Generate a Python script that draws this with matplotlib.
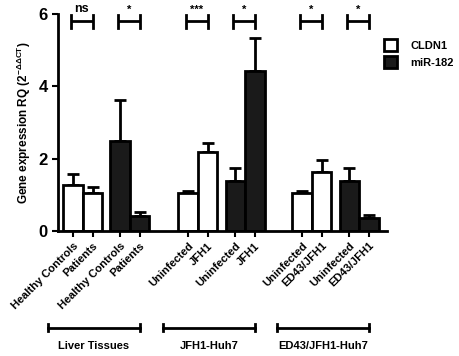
import matplotlib
matplotlib.use("Agg")
import matplotlib.pyplot as plt
from matplotlib.patches import Patch
import numpy as np

plt.rcParams['font.family'] = ['Liberation Sans', 'DejaVu Sans']

groups = ["Liver Tissues", "JFH1-Huh7", "ED43/JFH1-Huh7"]
tick_labels = [["Healthy Controls", "Patients", "Healthy Controls", "Patients"],
               ["Uninfected", "JFH1", "Uninfected", "JFH1"],
               ["Uninfected", "ED43/JFH1", "Uninfected", "ED43/JFH1"]]
cldn1 = [[1.27, 1.05], [1.05, 2.18], [1.05, 1.63]]
cldn1_err = [[0.30, 0.17], [0.05, 0.25], [0.05, 0.33]]
mir182 = [[2.49, 0.41], [1.38, 4.42], [1.38, 0.36]]
mir182_err = [[1.13, 0.12], [0.36, 0.91], [0.36, 0.08]]
signif = ["ns", "*", "***", "*", "*", "*"]

fig = plt.figure(figsize=(4.59, 3.56), dpi=100)
ax = fig.add_axes([58/459, 125/356, 329/459, 217/356])

group_start = [0.77, 6.67, 12.52]
pair_off = 2.42
w = 1.0
lw = 2.0

positions = []
labels = []
pairs = []
for g in range(3):
    s = group_start[g]
    xc = [s, s + 1]
    xm = [s + pair_off, s + pair_off + 1]
    ax.bar(xc, cldn1[g], width=w, color='white', edgecolor='black', linewidth=lw, zorder=2)
    ax.errorbar(xc, cldn1[g], yerr=[[0, 0], cldn1_err[g]], fmt='none', ecolor='black',
                elinewidth=lw, capsize=4, capthick=lw, zorder=1)
    ax.bar(xm, mir182[g], width=w, color='#1a1a1a', edgecolor='black', linewidth=lw, zorder=2)
    ax.errorbar(xm, mir182[g], yerr=[[0, 0], mir182_err[g]], fmt='none', ecolor='black',
                elinewidth=lw, capsize=4, capthick=lw, zorder=1)
    positions += xc + xm
    labels += tick_labels[g]
    pairs += [xc, xm]

ax.set_xlim(0, 16.87)
ax.set_ylim(0, 6)
ax.set_yticks([0, 2, 4, 6])
ax.set_yticklabels(["0", "2", "4", "6"], fontsize=12, fontweight='bold')
ax.set_xticks(positions)
ax.set_xticklabels(labels, rotation=45, ha='right', rotation_mode='anchor',
                   fontsize=8, fontweight='bold')
ax.tick_params(axis='both', width=1.5, length=4, direction='out')
ax.tick_params(axis='x', pad=3)
for sp in ['top', 'right']:
    ax.spines[sp].set_visible(False)
for sp in ['left', 'bottom']:
    ax.spines[sp].set_linewidth(2)
ax.set_ylabel(r"Gene expression RQ (2$^{\mathregular{-\Delta\Delta CT}}$)", fontsize=8.5,
              fontweight='bold', labelpad=2)
ax.yaxis.set_label_coords(-0.075, 0.5)

# significance brackets
for (a, b), lab in zip(pairs, signif):
    x0, x1 = a - 0.1, b
    yb = 5.8
    ax.plot([x0, x1], [yb, yb], color='black', lw=2, clip_on=False, solid_capstyle='butt')
    ax.plot([x0, x0], [yb - 0.18, yb + 0.18], color='black', lw=2, clip_on=False)
    ax.plot([x1, x1], [yb - 0.18, yb + 0.18], color='black', lw=2, clip_on=False)
    ax.text((x0 + x1) / 2, 5.97, lab, ha='center', va='bottom',
            fontsize=9 if lab == 'ns' else 8, fontweight='bold', clip_on=False)

# group brackets below
tr = ax.get_xaxis_transform()
for g in range(3):
    s = group_start[g]
    xl = s - 1.3
    xr = s + pair_off + 1
    yb = -0.447
    ax.plot([xl, xr], [yb, yb], color='black', lw=2, transform=tr, clip_on=False)
    for xx in (xl, xr):
        ax.plot([xx, xx], [yb - 0.012, yb + 0.02], color='black', lw=2, transform=tr, clip_on=False)
    ax.text((xl + xr) / 2, -0.53, groups[g], ha='center', va='center', fontsize=8,
            fontweight='bold', transform=tr)

handles = [Patch(facecolor='white', edgecolor='black', linewidth=2, label='CLDN1'),
           Patch(facecolor='#1a1a1a', edgecolor='black', linewidth=2, label='miR-182')]
fig.legend(handles=handles, loc='upper left', bbox_to_anchor=(374/459, 1 - 29/356),
           frameon=False, handlelength=1.15, handleheight=1.3, handletextpad=1.2,
           labelspacing=0.45, prop={'size': 8, 'weight': 'bold'})

fig.savefig("out.png", dpi=100)
